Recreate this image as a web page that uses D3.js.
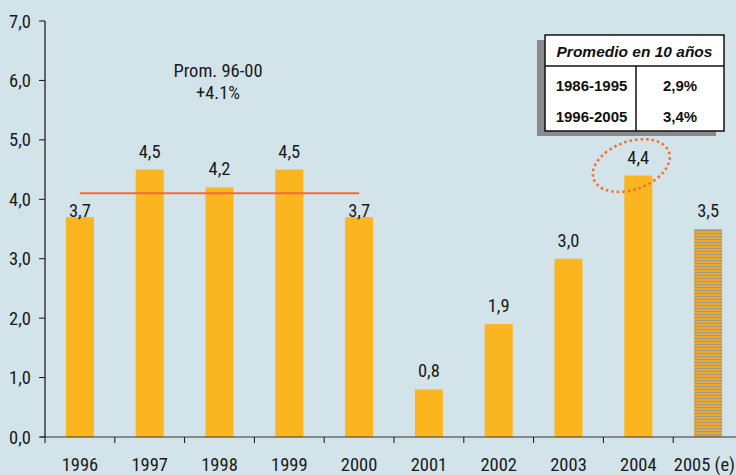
<!DOCTYPE html>
<html>
<head>
<meta charset="utf-8">
<script src="https://cdn.jsdelivr.net/npm/d3@7"></script>
<style>
  html, body { margin: 0; padding: 0; background: #d3e3ea; }
  svg { display: block; font-family: "Liberation Sans Narrow", "Arial Narrow", "Roboto Condensed", "Liberation Sans", sans-serif; }
</style>
</head>
<body>
<svg id="chart" width="736" height="475"></svg>
<script>
var years = ['1996', '1997', '1998', '1999', '2000', '2001', '2002', '2003', '2004', '2005 (e)'];
var growth = [3.7, 4.5, 4.2, 4.5, 3.7, 0.8, 1.9, 3.0, 4.4, 3.5];
var estimated = [false, false, false, false, false, false, false, false, false, true];
var yTicks = [0, 1, 2, 3, 4, 5, 6, 7];
var avgRange = ['1996', '2000'];
var avgValue = 4.1;
var avgLabel = ['Prom. 96-00', '+4.1%'];
var tableTitle = 'Promedio en 10 años';
var tableRows = [['1986-1995', '2,9%'], ['1996-2005', '3,4%']];
var highlightYear = '2004';

(function() {
    'use strict';
    var W = 736,
        svg = d3.select('#chart'),
        fs = 18.5,
        fmt = function(v) { return d3.format('.1f')(v).replace('.', ','); },
        x = d3.scaleBand().domain(years).range([45, 743]).paddingInner(0).paddingOuter(0),
        y = d3.scaleLinear().domain([0, 7]).range([437, 21]),
        barW = 28;

    // striped pattern for the estimate
    var pat = svg.append('defs').append('pattern')
        .attr('id', 'stripes').attr('patternUnits', 'userSpaceOnUse')
        .attr('width', 6).attr('height', 3);
    pat.append('rect').attr('width', 6).attr('height', 3).attr('fill', '#e9a734');
    pat.append('rect').attr('y', 2).attr('width', 6).attr('height', 1).attr('fill', '#9b9a8c');

    // bars
    svg.selectAll('.bar').data(years).enter().append('rect')
        .attr('class', 'bar')
        .attr('x', function(d) { return x(d) + x.bandwidth() / 2 - barW / 2; })
        .attr('width', barW)
        .attr('y', function(d, i) { return y(growth[i]); })
        .attr('height', function(d, i) { return y(0) - y(growth[i]); })
        .attr('fill', function(d, i) { return estimated[i] ? 'url(#stripes)' : '#fbb51f'; });

    // value labels
    svg.selectAll('.val').data(years).enter().append('text')
        .attr('class', 'val')
        .attr('x', function(d) { return x(d) + x.bandwidth() / 2; })
        .attr('y', function(d, i) {
            // labels that would hit the average line sit right on the bar
            var under = i <= years.indexOf(avgRange[1]) && growth[i] < avgValue;
            return y(growth[i]) - (under ? 0 : 12);
        })
        .attr('text-anchor', 'middle').attr('font-size', fs).attr('fill', '#1a1a1a')
        .text(function(d, i) { return fmt(growth[i]); });

    // average line
    svg.append('line')
        .attr('x1', x(avgRange[0]) + x.bandwidth() / 2)
        .attr('x2', x(avgRange[1]) + x.bandwidth() / 2)
        .attr('y1', y(avgValue)).attr('y2', y(avgValue))
        .attr('stroke', '#f26b3a').attr('stroke-width', 2);

    svg.append('text').attr('x', 218).attr('y', 77)
        .attr('text-anchor', 'middle').attr('font-size', fs).attr('fill', '#1a1a1a')
        .selectAll('tspan').data(avgLabel).enter().append('tspan')
        .attr('x', 218).attr('dy', function(d, i) { return i ? 22 : 0; })
        .text(function(d) { return d; });

    // y axis
    var yAxis = svg.append('g');
    yAxis.append('line').attr('x1', 45).attr('x2', 45).attr('y1', y(7)).attr('y2', y(0))
        .attr('stroke', '#111').attr('stroke-width', 1.2);
    yAxis.selectAll('.yt').data(yTicks).enter().append('line')
        .attr('x1', 39).attr('x2', 45).attr('y1', function(d) { return y(d); }).attr('y2', function(d) { return y(d); })
        .attr('stroke', '#111');
    yAxis.selectAll('.yl').data(yTicks).enter().append('text')
        .attr('x', 31).attr('y', function(d) { return y(d) + 6.5; })
        .attr('text-anchor', 'end').attr('font-size', fs).attr('fill', '#1a1a1a')
        .text(function(d) { return fmt(d); });

    // x axis
    var xAxis = svg.append('g');
    xAxis.append('line').attr('x1', 40).attr('x2', W).attr('y1', y(0)).attr('y2', y(0))
        .attr('stroke', '#333').attr('stroke-width', 1.2);
    xAxis.selectAll('.xt').data(years).enter().append('line')
        .attr('x1', function(d) { return x(d); }).attr('x2', function(d) { return x(d); })
        .attr('y1', y(0)).attr('y2', y(0) + 6).attr('stroke', '#111');
    xAxis.selectAll('.xl').data(years).enter().append('text')
        .attr('x', function(d) { return x(d) + x.bandwidth() / 2; })
        .attr('y', 471).attr('text-anchor', 'middle').attr('font-size', fs).attr('fill', '#1a1a1a')
        .text(function(d) { return d; })
        .each(function() {
            // keep the last label inside the picture
            var el = d3.select(this), cx = +el.attr('x'), half = this.getComputedTextLength() / 2;
            if (cx + half > W - 1) { el.attr('text-anchor', 'end').attr('x', W - 1); }
        });

    // dotted highlight
    var hi = years.indexOf(highlightYear),
        hx = x(highlightYear) + x.bandwidth() / 2 - 7,
        hy = y(growth[hi]) - 10;
    svg.append('ellipse')
        .attr('transform', 'translate(' + hx + ',' + hy + ') rotate(-20)')
        .attr('rx', 40).attr('ry', 24)
        .attr('fill', 'none').attr('stroke', '#f07030').attr('stroke-width', 2.5)
        .attr('stroke-dasharray', '2.5,3');

    // summary table
    var t = svg.append('g').attr('transform', 'translate(545,35)'),
        tw = 179, th = 96, hh = 31, col = 91,
        tf = '"Liberation Sans", Arial, sans-serif';
    t.append('rect').attr('x', -8).attr('y', 5).attr('width', tw).attr('height', th)
        .attr('fill', '#8a8a8a');
    t.append('rect').attr('width', tw).attr('height', th)
        .attr('fill', '#fff').attr('stroke', '#111').attr('stroke-width', 1.5);
    t.append('line').attr('x1', 0).attr('x2', tw).attr('y1', hh).attr('y2', hh)
        .attr('stroke', '#111').attr('stroke-width', 1.5);
    t.append('line').attr('x1', col).attr('x2', col).attr('y1', hh).attr('y2', th)
        .attr('stroke', '#111').attr('stroke-width', 1.5);
    t.append('text').attr('x', tw / 2).attr('y', 22).attr('text-anchor', 'middle')
        .attr('font-family', tf)
        .attr('font-size', 15.5).attr('font-weight', 'bold').attr('font-style', 'italic')
        .attr('fill', '#111').text(tableTitle);
    var rows = t.selectAll('.row').data(tableRows).enter().append('g')
        .attr('transform', function(d, i) { return 'translate(0,' + (56 + i * 31) + ')'; });
    rows.append('text').attr('x', col / 2 + 1).attr('text-anchor', 'middle')
        .attr('font-family', tf)
        .attr('font-size', 15).attr('font-weight', 'bold').attr('fill', '#111')
        .text(function(d) { return d[0]; });
    rows.append('text').attr('x', col + (tw - col) / 2).attr('text-anchor', 'middle')
        .attr('font-family', tf)
        .attr('font-size', 15).attr('font-weight', 'bold').attr('fill', '#111')
        .text(function(d) { return d[1]; });
}());
</script>
</body>
</html>
